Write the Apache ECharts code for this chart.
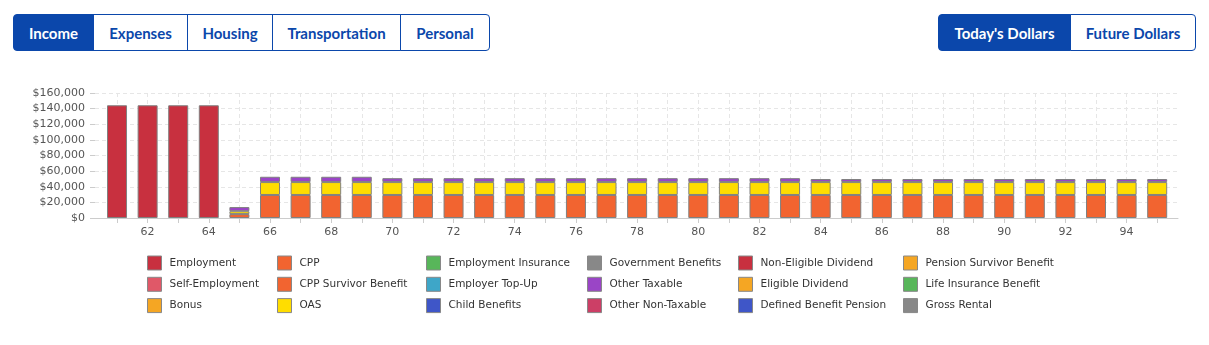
<!DOCTYPE html>
<html>
<head>
<meta charset="utf-8">
<script src="https://cdn.jsdelivr.net/npm/echarts@6/dist/echarts.min.js"></script>
<style>
  html, body { margin: 0; padding: 0; background: #fff; }
  #chart { position: absolute; left: 0; top: 0; width: 1209px; height: 345px; }
  .btn { position: absolute; top: 14px; height: 37px; box-sizing: border-box; border: 1px solid #0b47ab;
         font-family: Lato, "Open Sans", sans-serif; font-weight: 700; font-size: 15px; color: #0b47ab;
         background: #fff; display: flex; align-items: center; justify-content: center; z-index: 2; }
  .btn.on { background: #0b47ab; color: #fff; }
</style>
</head>
<body>
<div id="chart"></div>
<div class="btn on" style="left:13px;width:81px;border-radius:4px 0 0 4px;">Income</div>
<div class="btn" style="left:93px;width:95px;">Expenses</div>
<div class="btn" style="left:187px;width:86px;">Housing</div>
<div class="btn" style="left:272px;width:129px;">Transportation</div>
<div class="btn" style="left:400px;width:90px;border-radius:0 4px 4px 0;">Personal</div>
<div class="btn on" style="left:938px;width:133px;border-radius:4px 0 0 4px;">Today's Dollars</div>
<div class="btn" style="left:1070px;width:126px;border-radius:0 4px 4px 0;">Future Dollars</div>
<script>
const ages = [61,62,63,64,65,66,67,68,69,70,71,72,73,74,75,76,77,78,79,80,81,82,83,84,85,86,87,88,89,90,91,92,93,94,95];
const xLabels = [62,64,66,68,70,72,74,76,78,80,82,84,86,88,90,92,94];
const yTicks = [0,20000,40000,60000,80000,100000,120000,140000,160000];

const employment = [144300,144300,144300,144300,null,null,null,null,null,null,null,null,null,null,null,null,null,null,null,null,null,null,null,null,null,null,null,null,null,null,null,null,null,null,null];
const cpp = [null,null,null,null,5000,29500,29500,29500,29500,29500,29500,29500,29500,29500,29500,29500,29500,29500,29500,29500,29500,29500,29500,29500,29500,29500,29500,29500,29500,29500,29500,29500,29500,29500,29500];
const oas = [null,null,null,null,3700,16500,16500,16500,16500,16500,16500,16500,16500,16500,16500,16500,16500,16500,16500,16500,16500,16500,16500,16500,16500,16500,16500,16500,16500,16500,16500,16500,16500,16500,16500];
const otherTaxable = [null,null,null,null,5300,6800,6800,6800,6800,5000,5000,5000,5000,5000,5000,5000,5000,5000,5000,5000,5000,5000,5000,3900,3900,3900,3900,3900,3900,3900,3900,3900,3900,3900,3900];

const seriesDefs = [
  ['Employment', '#c8303f', employment],
  ['Self-Employment', '#e05868', []],
  ['Bonus', '#f5a623', []],
  ['CPP', '#f26430', cpp],
  ['CPP Survivor Benefit', '#f26430', []],
  ['OAS', '#ffdd00', oas],
  ['Employment Insurance', '#58b65a', []],
  ['Employer Top-Up', '#3ea6c8', []],
  ['Child Benefits', '#3f56c8', []],
  ['Government Benefits', '#888888', []],
  ['Other Taxable', '#9a45c6', otherTaxable],
  ['Other Non-Taxable', '#cc3f66', []],
  ['Non-Eligible Dividend', '#c8303f', []],
  ['Eligible Dividend', '#f5a623', []],
  ['Defined Benefit Pension', '#3f56c8', []],
  ['Pension Survivor Benefit', '#f5a623', []],
  ['Life Insurance Benefit', '#58b65a', []],
  ['Gross Rental', '#888888', []]
];

const legendCols = [
  [147, ['Employment','Self-Employment','Bonus']],
  [277, ['CPP','CPP Survivor Benefit','OAS']],
  [426, ['Employment Insurance','Employer Top-Up','Child Benefits']],
  [587, ['Government Benefits','Other Taxable','Other Non-Taxable']],
  [738, ['Non-Eligible Dividend','Eligible Dividend','Defined Benefit Pension']],
  [903, ['Pension Survivor Benefit','Life Insurance Benefit','Gross Rental']]
];

const font = '"DejaVu Sans", Verdana, sans-serif';
const chart = echarts.init(document.getElementById('chart'));
chart.setOption({
  animation: false,
  grid: { left: 95, right: 31, top: 93, bottom: 127, containLabel: false },
  xAxis: {
    type: 'value', min: 60.28, max: 95.68,
    axisLine: { show: true, lineStyle: { color: '#cccccc', width: 1 } },
    axisTick: { show: true, length: 5, lineStyle: { color: '#cccccc' }, customValues: ages },
    axisLabel: { color: '#555', fontSize: 11, fontFamily: font, margin: 9, customValues: xLabels },
    splitLine: { show: true, lineStyle: { color: '#e6e6e6', type: [4, 3] } }
  },
  yAxis: {
    type: 'value', min: 0, max: 160000, interval: 20000,
    axisLine: { show: false },
    axisTick: { show: true, length: 5, lineStyle: { color: '#cccccc' } },
    axisLabel: { color: '#555', fontSize: 11, fontFamily: font, margin: 10,
      formatter: v => '$' + v.toLocaleString('en-US') },
    splitLine: { show: true, lineStyle: { color: '#e6e6e6', type: [4, 3] } }
  },
  legend: legendCols.map(([left, names]) => ({
    orient: 'vertical', left: left, top: 255.5, padding: 0,
    itemWidth: 14, itemHeight: 14, itemGap: 6.3, icon: 'rect',
    selectedMode: false,
    itemStyle: { borderColor: '#888', borderWidth: 1 },
    textStyle: { color: '#333', fontSize: 10.5, fontFamily: font, padding: [0, 0, 0, 3] },
    data: names
  })),
  series: seriesDefs.map(([name, color, vals]) => ({
    name: name, type: 'bar', stack: 'income', barWidth: 20,
    encode: { x: 1, y: 0 },
    itemStyle: { color: color, borderColor: '#808080', borderWidth: 1 },
    data: vals.map((v, i) => [v, ages[i]])
  }))
});
</script>
</body>
</html>
